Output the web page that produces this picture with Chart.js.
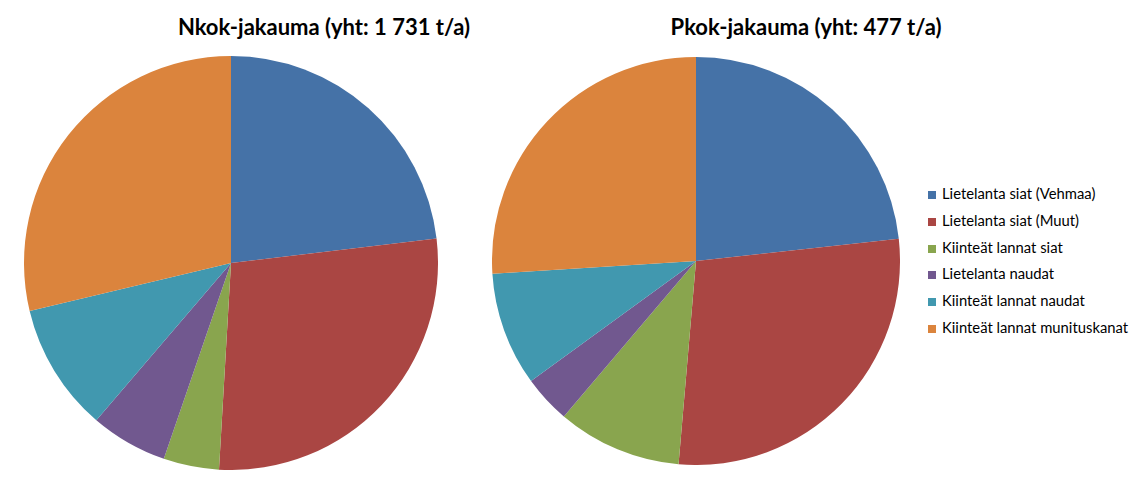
<!DOCTYPE html>
<html><head><meta charset="utf-8">
<script src="https://cdn.jsdelivr.net/npm/chart.js@4/dist/chart.umd.min.js"></script>
<style>
html,body{margin:0;padding:0;background:#fff;width:1142px;height:486px;overflow:hidden;font-family:Lato,"Open Sans",sans-serif;}
.title{position:absolute;font-weight:bold;font-size:22px;color:#000;white-space:nowrap;transform:translateX(-50%);}
canvas{position:absolute;}
#legend{position:absolute;left:928px;top:183px;font-size:14.8px;color:#000;}
#legend div{height:26.8px;line-height:20px;white-space:nowrap;}
#legend span.sw{display:inline-block;width:8px;height:8px;margin-right:6px;vertical-align:0px;}
</style></head>
<body>
<div class="title" id="t1" style="left:324px;top:13px;"></div>
<div class="title" id="t2" style="left:806px;top:13px;"></div>
<canvas id="c1" width="414" height="414" style="left:24px;top:56px;"></canvas>
<canvas id="c2" width="408" height="408" style="left:492px;top:57px;"></canvas>
<div id="legend"></div>
<script>
const categories = ["Lietelanta siat (Vehmaa)","Lietelanta siat (Muut)","Kiinteät lannat siat","Lietelanta naudat","Kiinteät lannat naudat","Kiinteät lannat munituskanat"];
const nkokValues = [400, 481, 75, 104, 173, 497];
const pkokValues = [111, 134, 47, 18, 43, 124];
const titles = ["Nkok-jakauma (yht: 1 731 t/a)", "Pkok-jakauma (yht: 477 t/a)"];
const colors = ["#4572A7","#AA4643","#89A54E","#71588F","#4198AF","#DB843D"];

document.getElementById('t1').textContent = titles[0];
document.getElementById('t2').textContent = titles[1];

function makePie(id, values){
  return new Chart(document.getElementById(id), {
    type: 'pie',
    data: { labels: categories, datasets: [{ data: values, backgroundColor: colors, borderWidth: 0, hoverOffset: 0 }] },
    options: {
      responsive: false, animation: false, events: [],
      layout: { padding: 0 },
      plugins: { legend: { display: false }, tooltip: { enabled: false }, title: { display: false } }
    }
  });
}
makePie('c1', nkokValues);
makePie('c2', pkokValues);

const lg = document.getElementById('legend');
categories.forEach((c,i)=>{
  const d = document.createElement('div');
  const s = document.createElement('span'); s.className='sw'; s.style.background=colors[i];
  d.appendChild(s); d.appendChild(document.createTextNode(c));
  lg.appendChild(d);
});
</script>
</body></html>
